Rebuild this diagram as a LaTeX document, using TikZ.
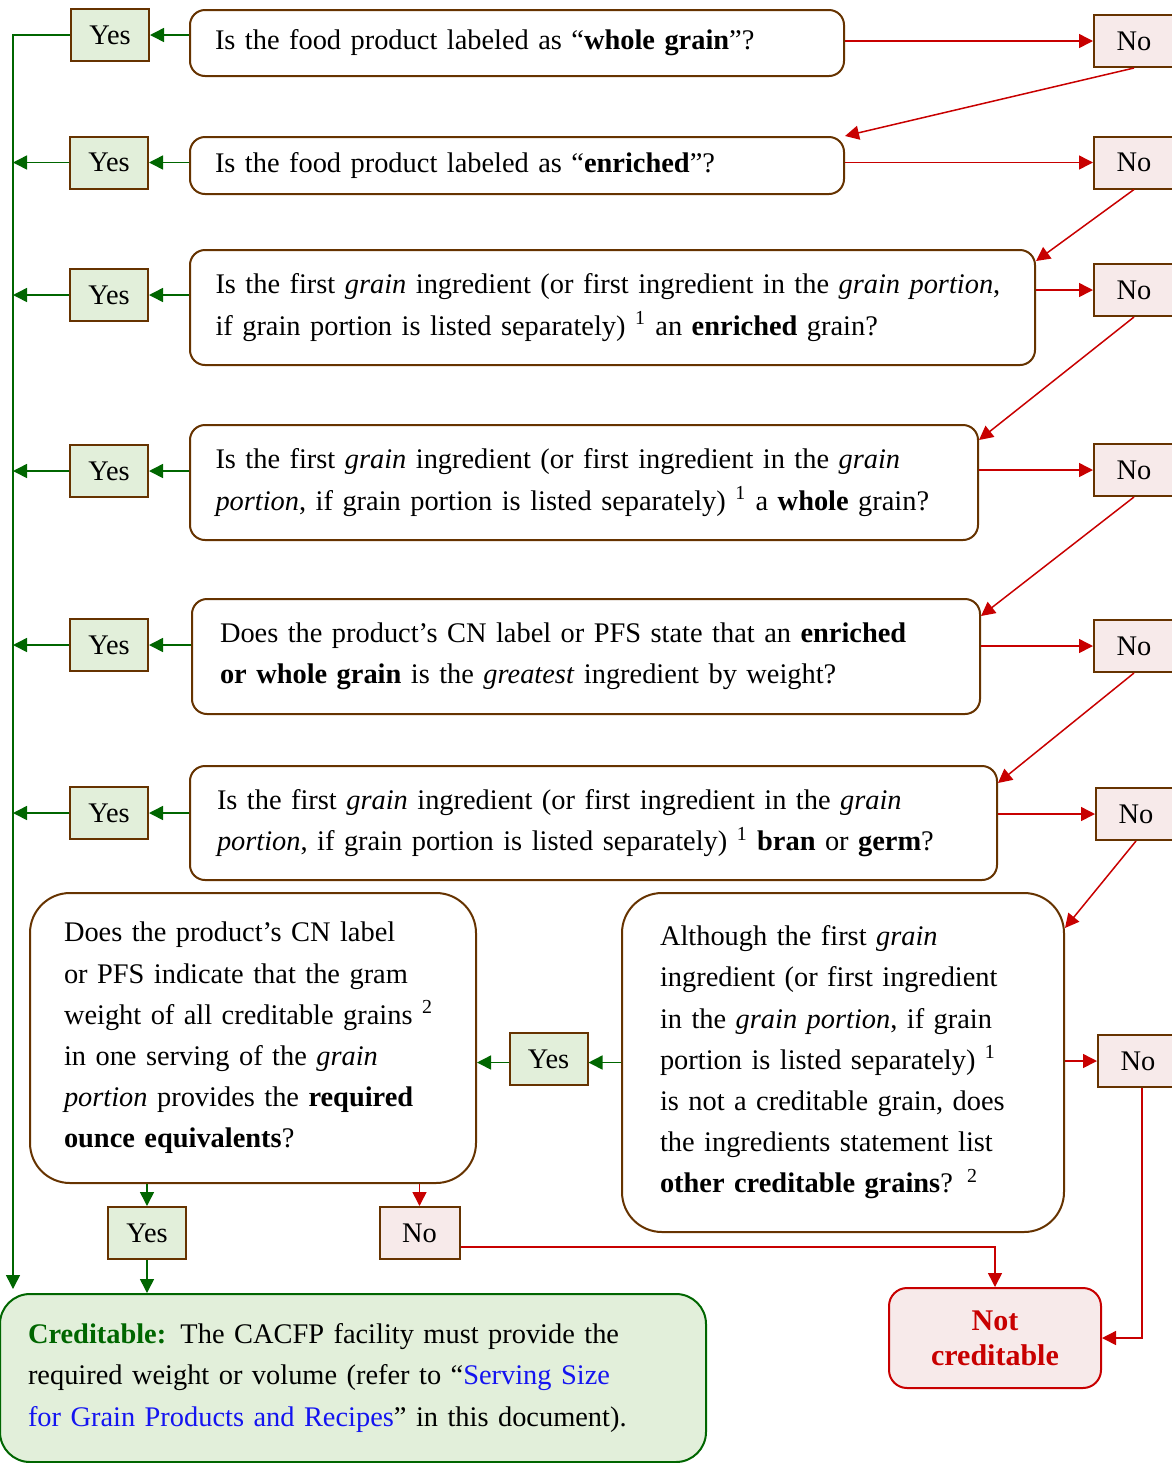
\documentclass[tikz,border=0pt]{standalone}
\usepackage{fontspec}
\setmainfont{Liberation Serif}
\usepackage{xcolor}
\usepackage{tikz}
\usetikzlibrary{arrows.meta}

\definecolor{boxbrown}{RGB}{102,51,0}
\definecolor{yesfill}{RGB}{226,239,218}
\definecolor{nofill}{RGB}{247,234,234}
\definecolor{okgreen}{RGB}{0,102,0}
\definecolor{nored}{RGB}{200,0,0}
\definecolor{linkblue}{RGB}{20,20,240}

\begin{document}
\begin{tikzpicture}[
  x=0.5pt, y=-0.5pt,
  font=\fontsize{14.2}{20.6}\selectfont,
  question/.style ={rectangle, rounded corners=7.5pt, draw=boxbrown, line width=1pt,
                    fill=white, align=left, inner xsep=12.5pt, inner ysep=0pt},
  bigq/.style     ={question, rounded corners=20pt},
  yesbox/.style   ={rectangle, draw=boxbrown, line width=1pt, fill=yesfill,
                    minimum width=39pt, minimum height=26pt, inner sep=0pt},
  nobox/.style    ={yesbox, fill=nofill, minimum width=40pt},
  yesarrow/.style ={-{Triangle[length=7pt,width=7pt]}, line width=0.75pt, draw=okgreen},
  noarrow/.style  ={-{Triangle[length=7pt,width=7pt]}, line width=0.75pt, draw=nored},
]
\useasboundingbox (0,0) rectangle (1172,1463);

% Questions, top to bottom
\node[question, text width=302pt, minimum height=33pt] (q1) at (517,43)
  {Is the food product labeled as “\textbf{whole grain}”?};
\node[question, text width=302pt, minimum height=28.5pt] (q2) at (517,165.5)
  {Is the food product labeled as “\textbf{enriched}”?};
\node[question, text width=397pt, minimum height=57.5pt, inner xsep=12.75pt] (q3) at (612.5,307.5)
  {Is the first \textit{grain} ingredient (or first ingredient in the \textit{grain portion},\\
   if grain portion is listed separately) \textsuperscript{1} an \textbf{enriched} grain?};
\node[question, text width=368.5pt, minimum height=57.5pt, inner xsep=12.75pt] (q4) at (584,482.5)
  {Is the first \textit{grain} ingredient (or first ingredient in the \textit{grain}\\
   \textit{portion}, if grain portion is listed separately) \textsuperscript{1} a \textbf{whole} grain?};
\node[question, text width=366pt, minimum height=57.5pt, inner xsep=14pt] (q5) at (586,656.5)
  {Does the product’s CN label or PFS state that an \textbf{enriched}\\
   \textbf{or whole grain} is the \textit{greatest} ingredient by weight?};
\node[question, text width=376.5pt, minimum height=57pt, inner xsep=13.5pt] (q6) at (593.5,823)
  {Is the first \textit{grain} ingredient (or first ingredient in the \textit{grain}\\
   \textit{portion}, if grain portion is listed separately) \textsuperscript{1} \textbf{bran} or \textbf{germ}?};

% Last two questions
\node[bigq, text width=189pt, minimum height=145pt, inner xsep=17pt] (q7) at (253,1038)
  {Does the product’s CN label\\
   or PFS indicate that the gram\\
   weight of all creditable grains \textsuperscript{2}\\
   in one serving of the \textit{grain}\\
   \textit{portion} provides the \textbf{required}\\
   \textbf{ounce equivalents}?};
\node[bigq, text width=183pt, minimum height=169.5pt, inner xsep=19pt] (q8) at (843,1062.5)
  {Although the first \textit{grain}\\
   ingredient (or first ingredient\\
   in the \textit{grain portion}, if grain\\
   portion is listed separately) \textsuperscript{1}\\
   is not a creditable grain, does\\
   the ingredients statement list\\
   \textbf{other creditable grains}? \textsuperscript{2}};

% Yes boxes
\node[yesbox] (yes1) at (110,35)    {Yes};
\node[yesbox] (yes2) at (109,162.5) {Yes};
\node[yesbox] (yes3) at (109,295)   {Yes};
\node[yesbox] (yes4) at (109,471)   {Yes};
\node[yesbox] (yes5) at (109,645)   {Yes};
\node[yesbox] (yes6) at (109,813)   {Yes};
\node[yesbox] (yes7) at (548.5,1059){Yes};
\node[yesbox] (yes8) at (147,1233)  {Yes};

% No boxes
\node[nobox] (no1) at (1134,41)    {No};
\node[nobox] (no2) at (1134,162.5) {No};
\node[nobox] (no3) at (1134,290)   {No};
\node[nobox] (no4) at (1134,470)   {No};
\node[nobox] (no5) at (1134,646)   {No};
\node[nobox] (no6) at (1136,814)   {No};
\node[nobox] (no7) at (1138,1061)  {No};
\node[nobox] (no8) at (419.5,1233) {No};

% Outcomes
\node[rectangle, rounded corners=15pt, draw=okgreen, line width=1pt, fill=yesfill,
      minimum width=353pt, minimum height=84pt, text width=325pt, inner xsep=14pt,
      align=left] (cred) at (353,1378)
  {\textbf{\color{okgreen}Creditable:} The CACFP facility must provide the\\
   required weight or volume (refer to “\textcolor{linkblue}{Serving Size}\\
   \textcolor{linkblue}{for Grain Products and Recipes}” in this document).};
\node[rectangle, rounded corners=9pt, draw=nored, line width=1pt, fill=nofill,
      minimum width=106pt, minimum height=50pt, align=center,
      text=nored, font=\fontsize{15}{17.5}\selectfont\bfseries] (notcred) at (995,1338)
  {Not\\creditable};

% Left trunk down to creditable
\coordinate (trunk) at (13,1289);
\draw[yesarrow] (yes1.west) -| (trunk);
\foreach \i in {2,...,6}
  \draw[yesarrow] (yes\i.west) -- (yes\i.west -| trunk);

% Questions to yes boxes
\foreach \i in {1,...,6}
  \draw[yesarrow] (q\i.west |- yes\i) -- (yes\i.east);
\draw[yesarrow] (q8.west) -- (yes7.east |- q8.west);
\draw[yesarrow] (yes7.west |- q8.west) -- (q7.east |- q8.west);

% Questions to no boxes
\foreach \i in {1,...,6}
  \draw[noarrow] (q\i.east |- no\i) -- (no\i.west);
\draw[noarrow] (q8.east |- no7) -- (no7.west);

% No boxes to next question
\draw[noarrow] (no1.south) -- (q2.north east);
\draw[noarrow] (no2.south) -- ([yshift=-6pt]q3.north east);
\draw[noarrow] (no3.south) -- ([yshift=-8pt]q4.north east);
\draw[noarrow] (no4.south) -- ([yshift=-9pt]q5.north east);
\draw[noarrow] (no5.south) -- ([yshift=-9pt]q6.north east);
\draw[noarrow] (no6.south) -- ([yshift=-18pt]q8.north east);

% Bottom branches
\draw[yesarrow] (q7.south -| yes8) -- (yes8.north);
\draw[yesarrow] (yes8.south) -- (yes8.south |- cred.north);
\draw[noarrow] (q7.south -| no8) -- (no8.north);
\draw[noarrow] ([yshift=-7pt]no8.east) -| (notcred.north);
\draw[noarrow] ([xshift=2pt]no7.south) |- (notcred.east);

\end{tikzpicture}
\end{document}
